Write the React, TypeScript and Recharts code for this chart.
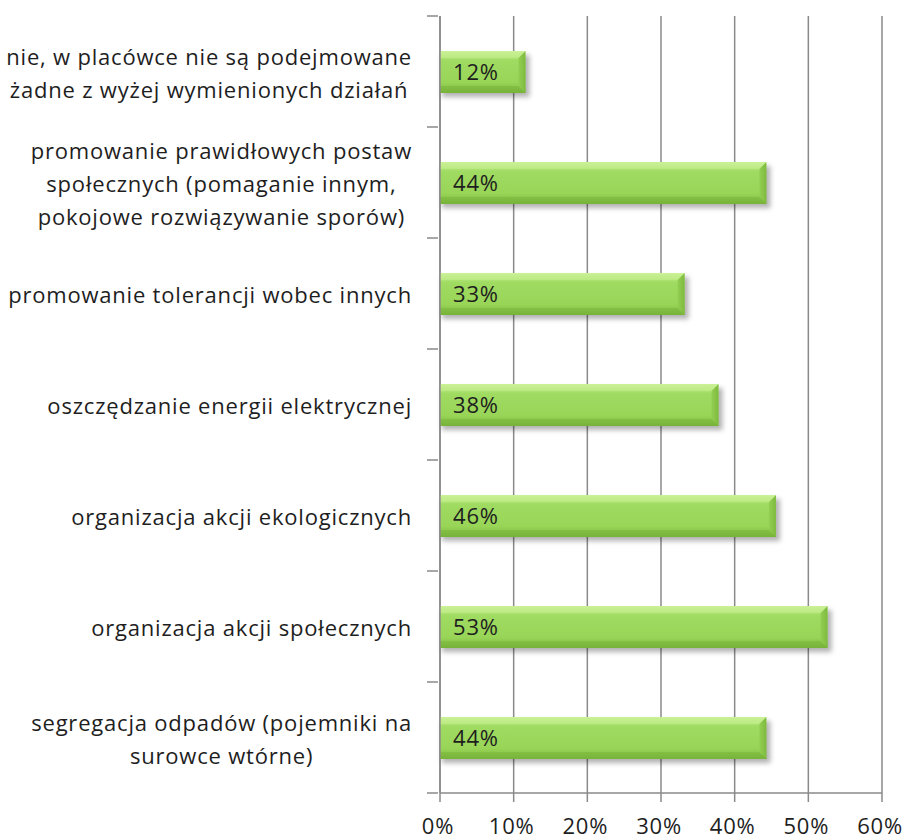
import React from "react";
import { BarChart, Bar, XAxis, YAxis, CartesianGrid, LabelList } from "recharts";

const categoryLines: string[][] = [
  ["nie, w placówce nie są podejmowane", "żadne z wyżej wymienionych działań"],
  ["promowanie prawidłowych postaw", "społecznych (pomaganie innym,", "pokojowe rozwiązywanie sporów)"],
  ["promowanie tolerancji wobec innych"],
  ["oszczędzanie energii elektrycznej"],
  ["organizacja akcji ekologicznych"],
  ["organizacja akcji społecznych"],
  ["segregacja odpadów (pojemniki na", "surowce wtórne)"],
];
const categories = categoryLines.map((l) => l.join(" "));
const values = [11.6, 44.3, 33.2, 37.8, 45.6, 52.6, 44.3];
const xTicks = [0, 10, 20, 30, 40, 50, 60];

const data = categories.map((name, i) => ({ name, value: values[i], lines: categoryLines[i] }));

const FONT = "'Open Sans', sans-serif";
const LABEL_SIZE = 22;
const LABEL_LS = 0.8;
const NUM_SIZE = 22;
const NUM_LS = 0.8;
const AXIS = "#8a8a8a";
const TEXT = "#1e1e1e";

let ctx: CanvasRenderingContext2D | null = null;
function measure(t: string): number {
  if (!ctx) {
    const c = document.createElement("canvas");
    ctx = c.getContext("2d");
  }
  if (!ctx) return t.length * LABEL_SIZE * 0.5;
  ctx.font = `${LABEL_SIZE}px 'Open Sans'`;
  return ctx.measureText(t).width + t.length * LABEL_LS;
}

const YTick = (props: any) => {
  const { x, y, payload, index, visibleTicksCount, height } = props;
  const lines = categoryLines[index] || [String(payload.value)];
  const half = payload && payload.offset ? payload.offset : height / visibleTicksCount / 2;
  const maxW = Math.max(...lines.map(measure));
  const right = x - 26;
  const cx = right - maxW / 2;
  const lh = 33;
  const start = y - ((lines.length - 1) * lh) / 2 + 2;
  const axisX = x + 0;
  return (
    <g>
      <line x1={axisX - 11} x2={axisX} y1={y - half} y2={y - half} stroke={AXIS} strokeWidth={1.5} />
      {index === visibleTicksCount - 1 && (
        <line x1={axisX - 11} x2={axisX} y1={y + half} y2={y + half} stroke={AXIS} strokeWidth={1.5} />
      )}
      <text
        x={cx}
        y={start}
        textAnchor="middle"
        fontFamily={FONT}
        fontSize={LABEL_SIZE}
        letterSpacing={LABEL_LS}
        fill={TEXT}
      >
        {lines.map((l, i) => (
          <tspan key={i} x={cx} y={start + i * lh} dy="0.35em">
            {l}
          </tspan>
        ))}
      </text>
    </g>
  );
};

const XTick = (props: any) => {
  const { x, y, payload } = props;
  return (
    <text
      x={x - 2}
      y={y}
      dy={30}
      textAnchor="middle"
      fontFamily={FONT}
      fontSize={NUM_SIZE}
      letterSpacing={NUM_LS}
      fill={TEXT}
    >
      {`${payload.value}%`}
    </text>
  );
};

const BevelBar = (props: any) => {
  const { x, y, width, height, index } = props;
  if (!width || width <= 0) return null;
  const b = 7;
  const gid = `g${index}`;
  const fid = `f${index}`;
  return (
    <g>
      <defs>
        <linearGradient id={gid} x1="0" y1="0" x2="0" y2="1">
          <stop offset="0" stopColor="#d2f4a2" />
          <stop offset="0.12" stopColor="#b8e880" />
          <stop offset="0.22" stopColor="#a0db62" />
          <stop offset="0.75" stopColor="#98d557" />
          <stop offset="0.88" stopColor="#88c548" />
          <stop offset="1" stopColor="#76b238" />
        </linearGradient>
        <linearGradient id={`r${index}`} x1="0" y1="0" x2="1" y2="0">
          <stop offset="0" stopColor="#92cf52" />
          <stop offset="1" stopColor="#7dba3e" />
        </linearGradient>
        <filter id={fid} x="-10%" y="-30%" width="120%" height="170%">
          <feGaussianBlur stdDeviation="2.5" />
        </filter>
      </defs>
      <rect x={x + 2} y={y + 4} width={width + 2} height={height} fill="rgba(0,0,0,0.3)" filter={`url(#${fid})`} />
      <rect x={x} y={y} width={width} height={height} fill={`url(#${gid})`} />
      <polygon
        points={`${x + width},${y} ${x + width},${y + height} ${x + width - b},${y + height - b} ${x + width - b},${y + b}`}
        fill={`url(#r${index})`}
      />
      <polygon
        points={`${x},${y} ${x + width},${y} ${x + width - b},${y + b} ${x},${y + b}`}
        fill="#c4ee8e"
        opacity={0.55}
      />
      <polygon
        points={`${x},${y + height} ${x + width},${y + height} ${x + width - b},${y + height - b} ${x},${y + height - b}`}
        fill="#78b43a"
        opacity={0.5}
      />
    </g>
  );
};

const ValueLabel = (props: any) => {
  const { x, y, height, value } = props;
  return (
    <text
      x={x + 13}
      y={y + height / 2}
      dy={8}
      fontFamily={FONT}
      fontSize={NUM_SIZE}
      letterSpacing={NUM_LS}
      fill={TEXT}
    >
      {`${Math.round(value)}%`}
    </text>
  );
};

export default function App() {
  return (
    <div style={{ position: "absolute", left: 0, top: 0, width: 907, height: 840, background: "#fff" }}>
      <BarChart
        layout="vertical"
        width={907}
        height={840}
        data={data}
        margin={{ top: 16, right: 25, bottom: 0, left: 0 }}
        barSize={42}
      >
        <CartesianGrid horizontal={false} vertical stroke={AXIS} strokeWidth={1.5} />
        <XAxis
          type="number"
          domain={[0, 60]}
          ticks={xTicks}
          height={47}
          axisLine={{ stroke: AXIS, strokeWidth: 1.5 }}
          tickLine={{ stroke: AXIS, strokeWidth: 1.5 }}
          tickSize={9}
          tick={<XTick />}
          interval={0}
        />
        <YAxis
          type="category"
          dataKey="name"
          width={440}
          axisLine={{ stroke: AXIS, strokeWidth: 1.5 }}
          tickLine={false}
          tickSize={0}
          tick={<YTick />}
          interval={0}
        />
        <Bar dataKey="value" shape={<BevelBar />} isAnimationActive={false}>
          <LabelList dataKey="value" content={<ValueLabel />} />
        </Bar>
      </BarChart>
    </div>
  );
}
